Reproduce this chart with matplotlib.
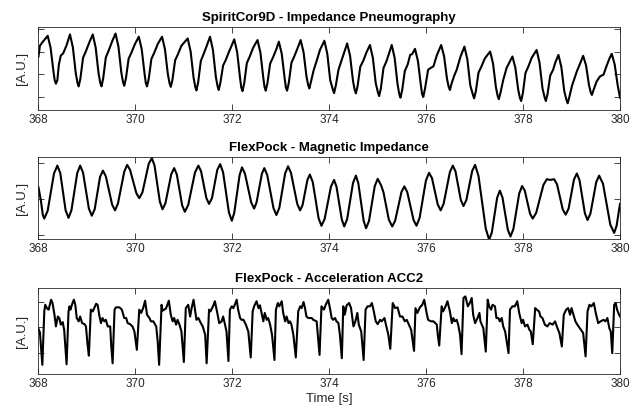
import matplotlib
matplotlib.use("Agg")
import matplotlib.pyplot as plt

plt.rcParams['font.family'] = ['Liberation Sans', 'DejaVu Sans']

# ---------------- data (time [s], value [A.U.]) ----------------
titles = ["SpiritCor9D - Impedance Pneumography",
          "FlexPock - Magnetic Impedance",
          "FlexPock - Acceleration ACC2"]
x_ticks = [368, 370, 372, 374, 376, 378, 380]
x_label = "Time [s]"
y_label = "[A.U.]"

pneumo_pts = [
    (368.00, 1.80), (368.03, 2.28), (368.07, 2.40), (368.19, 2.72), (368.25, 2.19), (368.31, 1.12),
    (368.335, 0.74), (368.36, 0.59), (368.39, 0.75), (368.42, 1.43), (368.46, 1.84), (368.51, 1.94),
    (368.58, 2.30), (368.65, 2.78), (368.71, 2.20), (368.77, 1.05), (368.805, 0.63), (368.83, 0.47),
    (368.865, 0.82), (368.92, 1.74), (368.98, 2.04), (369.05, 2.43), (369.12, 2.78), (369.18, 2.20),
    (369.24, 1.05), (369.275, 0.63), (369.30, 0.47), (369.335, 0.82), (369.39, 1.76), (369.45, 2.07),
    (369.52, 2.47), (369.59, 2.82), (369.65, 2.24), (369.71, 1.08), (369.745, 0.66), (369.77, 0.50),
    (369.805, 0.83), (369.86, 1.70), (369.92, 1.98), (369.99, 2.35), (370.07, 2.68), (370.13, 2.13),
    (370.19, 1.02), (370.215, 0.62), (370.24, 0.47), (370.275, 0.80), (370.33, 1.69), (370.39, 1.97),
    (370.46, 2.35), (370.55, 2.68), (370.61, 2.12), (370.67, 1.01), (370.705, 0.61), (370.73, 0.45),
    (370.765, 0.77), (370.82, 1.63), (370.88, 1.91), (370.95, 2.28), (371.08, 2.60), (371.14, 2.02),
    (371.20, 0.87), (371.235, 0.45), (371.26, 0.29), (371.295, 0.65), (371.35, 1.60), (371.41, 1.92),
    (371.48, 2.32), (371.54, 2.68), (371.60, 2.09), (371.66, 0.90), (371.695, 0.48), (371.72, 0.31),
    (371.755, 0.65), (371.81, 1.40), (371.86, 1.62), (371.92, 1.95), (372.04, 2.56), (372.10, 1.99),
    (372.16, 0.84), (372.185, 0.42), (372.21, 0.26), (372.245, 0.60), (372.30, 1.51), (372.36, 1.80),
    (372.43, 2.19), (372.52, 2.53), (372.58, 1.97), (372.64, 0.84), (372.665, 0.44), (372.69, 0.28),
    (372.725, 0.61), (372.78, 1.48), (372.84, 1.76), (372.91, 2.13), (372.96, 2.46), (373.02, 1.92),
    (373.08, 0.83), (373.105, 0.43), (373.13, 0.28), (373.165, 0.62), (373.22, 1.52), (373.28, 1.81),
    (373.35, 2.19), (373.41, 2.53), (373.47, 1.99), (373.53, 0.92), (373.565, 0.53), (373.59, 0.38),
    (373.625, 0.70), (373.68, 1.20), (373.74, 1.60), (373.81, 2.10), (373.90, 2.50), (373.96, 1.92),
    (374.02, 0.75), (374.075, 0.33), (374.10, 0.17), (374.135, 0.50), (374.19, 1.20), (374.25, 1.60),
    (374.32, 2.05), (374.37, 2.38), (374.43, 1.83), (374.49, 0.72), (374.525, 0.32), (374.55, 0.16),
    (374.585, 0.48), (374.64, 1.34), (374.70, 1.60), (374.77, 1.99), (374.84, 2.31), (374.90, 1.74),
    (374.96, 0.61), (375.005, 0.20), (375.03, 0.04), (375.065, 0.38), (375.12, 1.29), (375.18, 1.58),
    (375.235, 1.95), (375.29, 2.31), (375.35, 1.73), (375.41, 0.56), (375.445, 0.13), (375.47, -0.03),
    (375.505, 0.30), (375.56, 1.16), (375.62, 1.45), (375.67, 1.87), (375.71, 1.90), (375.77, 2.14),
    (375.83, 1.60), (375.89, 0.54), (375.915, 0.15), (375.94, 0.00), (375.975, 0.35), (376.04, 1.21),
    (376.10, 1.30), (376.15, 1.36), (376.22, 1.85), (376.31, 2.31), (376.37, 1.81), (376.43, 0.81),
    (376.465, 0.45), (376.49, 0.31), (376.525, 0.60), (376.58, 0.95), (376.63, 1.21), (376.71, 1.80),
    (376.79, 2.24), (376.85, 1.67), (376.91, 0.52), (376.965, 0.10), (376.99, -0.06), (377.025, 0.25),
    (377.08, 1.08), (377.14, 1.35), (377.21, 1.71), (377.32, 2.02), (377.38, 1.49), (377.44, 0.43),
    (377.475, 0.05), (377.50, -0.10), (377.535, 0.20), (377.59, 0.75), (377.66, 1.29), (377.72, 1.55),
    (377.78, 1.80), (377.84, 1.31), (377.90, 0.32), (377.935, -0.04), (377.96, -0.18), (377.995, 0.16),
    (378.05, 1.07), (378.11, 1.36), (378.18, 1.75), (378.28, 2.09), (378.34, 1.52), (378.40, 0.39),
    (378.445, -0.02), (378.47, -0.18), (378.505, 0.13), (378.56, 0.95), (378.62, 1.21), (378.67, 1.56),
    (378.73, 1.87), (378.79, 1.33), (378.85, 0.26), (378.895, -0.13), (378.92, -0.28), (378.955, 0.00),
    (379.01, 0.50), (379.11, 1.14), (379.17, 1.45), (379.24, 1.83), (379.30, 1.40), (379.36, 0.53),
    (379.395, 0.21), (379.42, 0.09), (379.46, 0.35), (379.52, 0.70), (379.59, 0.92), (379.66, 0.99),
    (379.72, 1.36), (379.78, 1.70), (379.83, 1.92), (379.89, 1.45), (379.95, 0.55), (380.00, -0.03),
]

magnetic_pts = [
    (368.00, 1.32), (368.05, 0.95), (368.09, 0.55), (368.12, 0.45), (368.19, 0.67), (368.32, 1.71),
    (368.39, 1.93), (368.45, 1.72), (368.56, 0.68), (368.62, 0.47), (368.68, 0.68), (368.80, 1.72),
    (368.86, 1.93), (368.92, 1.73), (369.04, 0.73), (369.10, 0.53), (369.16, 0.71), (369.27, 1.61),
    (369.33, 1.79), (369.39, 1.63), (369.52, 0.84), (369.58, 0.68), (369.64, 0.87), (369.77, 1.76),
    (369.83, 1.95), (369.89, 1.81), (370.02, 1.16), (370.08, 1.02), (370.145, 1.18), (370.275, 1.98),
    (370.34, 2.14), (370.395, 1.93), (370.505, 0.92), (370.56, 0.71), (370.62, 0.88), (370.74, 1.69),
    (370.80, 1.86), (370.855, 1.68), (370.965, 0.82), (371.02, 0.64), (371.09, 0.83), (371.23, 1.74),
    (371.30, 1.93), (371.355, 1.77), (371.465, 1.02), (371.52, 0.86), (371.58, 1.02), (371.69, 1.81),
    (371.75, 1.97), (371.81, 1.74), (371.93, 0.62), (371.99, 0.39), (372.04, 0.61), (372.15, 1.66),
    (372.20, 1.88), (372.26, 1.71), (372.39, 0.90), (372.45, 0.73), (372.50, 0.90), (372.61, 1.70),
    (372.66, 1.86), (372.72, 1.67), (372.85, 0.74), (372.91, 0.55), (372.97, 0.75), (373.09, 1.71),
    (373.15, 1.91), (373.21, 1.73), (373.34, 0.86), (373.40, 0.68), (373.45, 0.83), (373.55, 1.53),
    (373.60, 1.68), (373.66, 1.47), (373.78, 0.46), (373.84, 0.25), (373.905, 0.44), (374.035, 1.34),
    (374.10, 1.53), (374.15, 1.34), (374.26, 0.42), (374.31, 0.23), (374.37, 0.44), (374.49, 1.44),
    (374.55, 1.65), (374.60, 1.44), (374.71, 0.39), (374.76, 0.18), (374.82, 0.38), (374.94, 1.36),
    (375.00, 1.56), (375.07, 1.38), (375.12, 1.18), (375.23, 0.42), (375.30, 0.23), (375.36, 0.39),
    (375.49, 1.19), (375.55, 1.35), (375.61, 1.19), (375.74, 0.41), (375.80, 0.25), (375.865, 0.47),
    (375.995, 1.51), (376.06, 1.73), (376.12, 1.58), (376.24, 0.84), (376.30, 0.68), (376.36, 0.86),
    (376.49, 1.75), (376.55, 1.93), (376.605, 1.77), (376.715, 0.97), (376.77, 0.80), (376.83, 0.97),
    (376.95, 1.78), (377.01, 1.95), (377.08, 1.64), (377.23, 0.17), (377.30, -0.14), (377.355, 0.06),
    (377.465, 1.03), (377.52, 1.23), (377.575, 1.04), (377.685, 0.14), (377.74, -0.05), (377.80, 0.16),
    (377.92, 1.15), (377.98, 1.36), (378.035, 1.23), (378.145, 0.58), (378.20, 0.45), (378.27, 0.61),
    (378.42, 1.39), (378.49, 1.55), (378.56, 1.53), (378.64, 1.55), (378.70, 1.41), (378.82, 0.70),
    (378.88, 0.56), (378.94, 0.73), (379.05, 1.54), (379.11, 1.71), (379.165, 1.52), (379.275, 0.60),
    (379.33, 0.41), (379.39, 0.59), (379.51, 1.47), (379.57, 1.65), (379.65, 1.42), (379.80, 0.28),
    (379.88, 0.05), (379.93, 0.25), (380.00, 0.86),
]

accel_pts = [
    (368.00, 0.95), (368.03, 0.80), (368.08, -0.47), (368.12, 1.63), (368.14, 1.89), (368.18, 1.74),
    (368.21, 1.70), (368.26, 2.09), (368.29, 1.96), (368.33, 1.50), (368.36, 1.04), (368.40, 1.43),
    (368.43, 1.37), (368.46, 1.11), (368.50, 1.21), (368.53, 0.91), (368.55, 0.38), (368.58, -0.45),
    (368.62, 1.63), (368.64, 1.83), (368.66, 1.70), (368.69, 1.89), (368.73, 2.09), (368.76, 1.89),
    (368.79, 1.37), (368.83, 1.24), (368.86, 1.43), (368.90, 1.17), (368.95, 1.13), (368.98, 1.04),
    (369.01, 0.38), (369.04, -0.11),
    (369.08, 1.70), (369.12, 1.63), (369.19, 1.93), (369.22, 1.89), (369.26, 1.43), (369.29, 1.17),
    (369.32, 1.37), (369.36, 1.24), (369.39, 1.30), (369.43, 1.04), (369.48, 1.04), (369.50, 0.32),
    (369.53, -0.41),
    (369.57, 1.70), (369.60, 1.79), (369.67, 1.79), (369.72, 1.70), (369.77, 1.37), (369.81, 1.37),
    (369.84, 1.17), (369.89, 1.13), (369.94, 1.04), (369.98, 0.84), (370.03, 0.12),
    (370.08, 1.70), (370.12, 1.57), (370.16, 1.76), (370.20, 2.05), (370.24, 1.50), (370.29, 1.37),
    (370.32, 1.24), (370.37, 1.24), (370.43, 1.04), (370.46, 0.45), (370.49, -0.47),
    (370.54, 1.89), (370.56, 1.66), (370.63, 1.74), (370.69, 2.05), (370.73, 1.50), (370.77, 1.24),
    (370.80, 1.37), (370.84, 1.11), (370.87, 1.30), (370.91, 1.11), (370.95, 0.84), (371.00, -0.36),
    (371.04, 1.76), (371.09, 1.89), (371.13, 1.43), (371.16, 1.76), (371.20, 2.09), (371.23, 1.70),
    (371.26, 1.30), (371.30, 1.37), (371.35, 1.17), (371.39, 1.04), (371.44, 0.71), (371.47, -0.41),
    (371.52, 1.70), (371.55, 1.63), (371.61, 1.87), (371.64, 2.03), (371.69, 1.57), (371.73, 1.17),
    (371.78, 1.24), (371.81, 1.43), (371.85, 1.11), (371.88, 0.84), (371.92, -0.32),
    (371.95, 1.70), (371.99, 1.83), (372.02, 1.76), (372.06, 1.93), (372.09, 2.09), (372.12, 1.70),
    (372.16, 1.37), (372.19, 1.30), (372.23, 1.30), (372.28, 1.11), (372.33, 0.84), (372.38, -0.18),
    (372.42, 1.63), (372.45, 1.83), (372.50, 2.03), (372.54, 1.76), (372.57, 1.87), (372.61, 1.50),
    (372.64, 1.24), (372.67, 1.57), (372.71, 1.30), (372.74, 1.37), (372.78, 1.11), (372.82, 0.71),
    (372.87, -0.28),
    (372.90, 1.70), (372.94, 1.96), (372.97, 1.83), (373.02, 2.03), (373.05, 1.57), (373.09, 1.24),
    (373.12, 1.43), (373.16, 1.17), (373.19, 1.24), (373.22, 1.11), (373.26, 0.71), (373.31, -0.18),
    (373.36, 1.63), (373.40, 1.83), (373.43, 1.76), (373.47, 2.00), (373.50, 1.76), (373.53, 1.43),
    (373.57, 1.37), (373.64, 1.37), (373.67, 1.30), (373.74, 1.24), (373.78, 0.38), (373.80, -0.08),
    (373.84, 1.83), (373.89, 1.70), (373.93, 1.90), (373.98, 2.09), (374.02, 1.70), (374.05, 1.37),
    (374.08, 1.30), (374.12, 1.37), (374.15, 1.24), (374.19, 1.17), (374.22, 0.71), (374.26, -0.21),
    (374.29, 1.83), (374.32, 1.50), (374.36, 1.87), (374.41, 1.96), (374.45, 1.76), (374.50, 1.04),
    (374.54, 1.24), (374.58, 1.57), (374.61, 1.11), (374.66, 0.84), (374.71, -0.28),
    (374.75, 1.70), (374.79, 1.83), (374.84, 1.83), (374.88, 1.96), (374.92, 1.63), (374.96, 1.24),
    (375.00, 1.13), (375.05, 1.30), (375.08, 1.24), (375.14, 1.37), (375.17, 1.11), (375.22, 0.71),
    (375.26, 0.16),
    (375.31, 1.96), (375.36, 1.76), (375.41, 1.79), (375.46, 1.43), (375.51, 1.43), (375.56, 1.24),
    (375.60, 1.30), (375.63, 1.17), (375.69, 0.91), (375.75, 0.08),
    (375.78, 1.76), (375.82, 1.57), (375.87, 1.79), (375.92, 1.89), (375.96, 2.09), (376.01, 1.57),
    (376.04, 1.30), (376.10, 1.24), (376.15, 1.24), (376.22, 1.11), (376.24, 0.71), (376.27, 0.29),
    (376.32, 1.83), (376.35, 1.63), (376.40, 1.83), (376.44, 2.03), (376.49, 1.63), (376.53, 1.17),
    (376.56, 1.37), (376.59, 1.24), (376.63, 1.30), (376.66, 1.11), (376.70, 0.71), (376.73, -0.05),
    (376.77, 2.16), (376.81, 2.22), (376.86, 1.83), (376.90, 1.96), (376.94, 2.16), (376.97, 1.50),
    (377.01, 1.17), (377.06, 1.37), (377.10, 1.57), (377.12, 1.24), (377.18, 0.97), (377.23, 0.05),
    (377.27, 2.09), (377.30, 1.83), (377.34, 1.70), (377.37, 1.89), (377.42, 1.83), (377.45, 1.37),
    (377.49, 1.37), (377.52, 1.24), (377.56, 1.37), (377.59, 1.04), (377.63, 0.84), (377.70, -0.01),
    (377.73, 1.70), (377.78, 1.83), (377.83, 1.83), (377.88, 2.03), (377.92, 1.57), (377.97, 1.17),
    (378.00, 1.30), (378.04, 1.04), (378.09, 1.11), (378.13, 0.91), (378.16, 0.84), (378.20, 0.34),
    (378.25, 1.76), (378.28, 1.70), (378.33, 1.63), (378.36, 1.43), (378.40, 1.37), (378.45, 1.11),
    (378.50, 1.04), (378.55, 1.17), (378.61, 1.11), (378.66, 1.24), (378.71, 0.97), (378.75, 0.78),
    (378.80, 0.25),
    (378.84, 1.50), (378.89, 1.70), (378.93, 1.76), (378.97, 1.50), (379.00, 1.76), (379.04, 1.50),
    (379.08, 1.24), (379.12, 1.11), (379.17, 0.97), (379.24, 0.78), (379.29, -0.14),
    (379.33, 1.63), (379.37, 1.89), (379.41, 1.83), (379.46, 1.96), (379.50, 1.57), (379.55, 1.17),
    (379.60, 1.24), (379.66, 1.30), (379.70, 1.24), (379.74, 1.37), (379.78, 0.97), (379.81, 0.84),
    (379.84, -0.01),
    (379.88, 1.89), (379.91, 1.96), (379.94, 1.70), (379.98, 1.50), (380.00, 1.43),
]

y_limits = [(-0.58, 3.11), (-0.12, 2.17), (-0.83, 2.55)]
y_ticks = [[0, 1, 2, 3], [0, 1, 2], [0, 1, 2]]

# ---------------- figure ----------------
fig = plt.figure(figsize=(6.37, 4.15), dpi=100)
rects = [[0.0604, 0.7349, 0.9129, 0.2000],
         [0.0604, 0.4241, 0.9129, 0.1976],
         [0.0604, 0.0988, 0.9129, 0.2072]]
gray = '#262626'

for i, (rect, pts) in enumerate(zip(rects, [pneumo_pts, magnetic_pts, accel_pts])):
    ax = fig.add_axes(rect)
    t = [p[0] for p in pts]
    v = [p[1] for p in pts]
    ax.plot(t, v, color='black', lw=1.5, solid_joinstyle='round')
    ax.set_xlim(368, 380)
    ax.set_ylim(*y_limits[i])
    ax.set_xticks(x_ticks)
    ax.set_xticklabels([str(x) for x in x_ticks])
    ax.set_yticks(y_ticks[i])
    ax.set_yticklabels([])
    ax.tick_params(direction='in', top=True, right=True, length=4.2, width=0.6,
                   colors=gray, labelsize=8.5, pad=3)
    for s in ax.spines.values():
        s.set_color(gray)
        s.set_linewidth(0.6)
    ax.set_title(titles[i], fontsize=9.5, fontweight='bold', pad=4.5, color='black')
    ax.set_ylabel(y_label, fontsize=9.5, color=gray)
    ax.yaxis.set_label_coords(-0.018, 0.5)
    if i == 2:
        ax.set_xlabel(x_label, fontsize=9.5, color=gray, labelpad=2)

fig.savefig("out.png", dpi=100)
